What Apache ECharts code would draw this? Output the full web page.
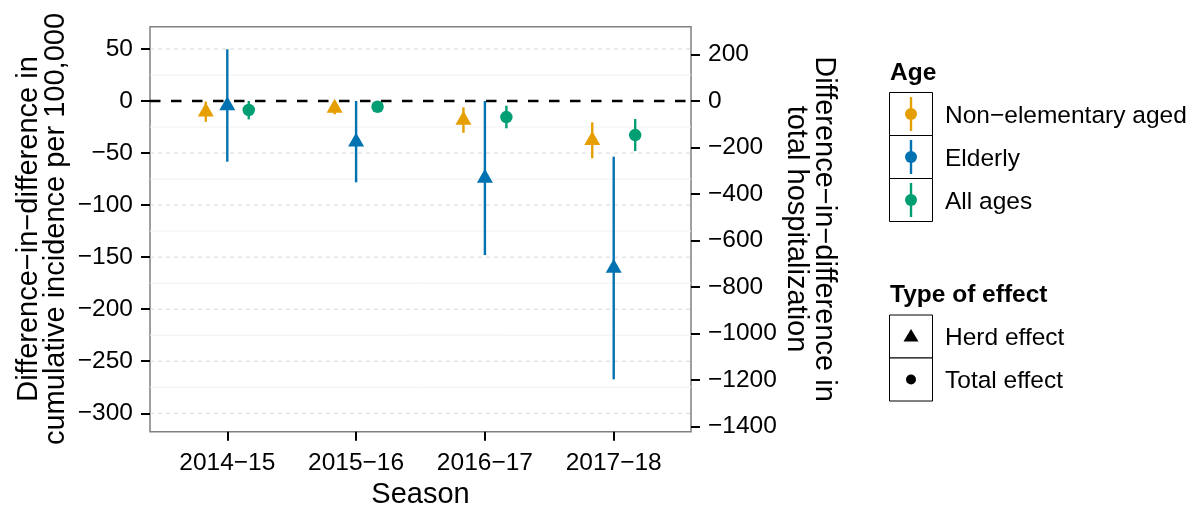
<!DOCTYPE html>
<html>
<head>
<meta charset="utf-8">
<script src="https://cdn.jsdelivr.net/npm/echarts@6/dist/echarts.min.js"></script>
<style>html,body{margin:0;padding:0;background:#fff;}#c{width:1194px;height:510px;}</style>
</head>
<body>
<div id="c"></div>
<script>
// ---------- data ----------
const seasons = ['2014−15', '2015−16', '2016−17', '2017−18'];
const ageGroups = ['Non−elementary aged', 'Elderly', 'All ages'];
const effectTypes = ['Herd effect', 'Total effect'];
const groupEffect = ['Herd effect', 'Herd effect', 'Total effect'];

const nonElemEst = [-10.3, -6.7, -18.3, -37.8];
const nonElemLo  = [-20.0, -12.8, -30.5, -55.0];
const nonElemHi  = [-0.5, -0.6, -6.1, -20.5];

const elderlyEst = [-4.3, -39.1, -74.0, -160.4];
const elderlyLo  = [-58.3, -78.1, -148.0, -267.4];
const elderlyHi  = [49.7, 0.0, 0.0, -53.5];

const allEst = [-8.6, -5.5, -15.4, -32.7];
const allLo  = [-17.6, -10.0, -26.2, -48.0];
const allHi  = [0.0, -1.5, -4.5, -17.3];

const leftTicks  = [50, 0, -50, -100, -150, -200, -250, -300];
const minorTicks = [25, -25, -75, -125, -175, -225, -275];
const rightTicks = [200, 0, -200, -400, -600, -800, -1000, -1200, -1400];
const hlineValue = [0];

const leftMin = -317.7, leftMax = 71.4;
const secRatio = 4.475; // right axis = left * ratio

const leftTitle = 'Difference−in−difference in\ncumulative incidence per 100,000';
const rightTitle = 'Difference−in−difference in\ntotal hospitalization';
const xTitle = 'Season';
const ageTitle = 'Age';
const effectTitle = 'Type of effect';

// ---------- build ----------
const FONT = "'Liberation Sans', Arial, Helvetica, sans-serif";
const colors = ['#E69F00', '#0072B2', '#009E73'];
const xMin = 0.4, xMax = 4.6;
const dodge = 0.5;
const est = [nonElemEst, elderlyEst, allEst];
const lo = [nonElemLo, elderlyLo, allLo];
const hi = [nonElemHi, elderlyHi, allHi];
const fmtNum = v => String(v).replace('-', '−');

function hline(style) {
  return function (params, api) {
    const y = api.value(1);
    const a = api.coord([xMin, y]);
    const b = api.coord([xMax, y]);
    return { type: 'line', shape: { x1: a[0], y1: a[1], x2: b[0], y2: b[1] }, style: style };
  };
}

const series = [];
series.push({
  type: 'custom', name: 'minor', z: 1, silent: true,
  data: minorTicks.map(v => [xMin, v]), encode: { x: 0, y: 1 },
  renderItem: hline({ stroke: '#f2f2f2', lineWidth: 1 })
});
series.push({
  type: 'custom', name: 'major', z: 1, silent: true,
  data: leftTicks.filter(v => v !== 0).map(v => [xMin, v]), encode: { x: 0, y: 1 },
  renderItem: hline({ stroke: '#d6d6d6', lineWidth: 1, lineDash: [4, 4] })
});
series.push({
  type: 'custom', name: 'zero', z: 2, silent: true,
  data: hlineValue.map(v => [xMin, v]), encode: { x: 0, y: 1 },
  renderItem: hline({ stroke: '#000', lineWidth: 2.5, lineDash: [10.5, 10.5] })
});

ageGroups.forEach((g, gi) => {
  const off = (gi - (ageGroups.length - 1) / 2) * dodge / ageGroups.length;
  series.push({
    type: 'custom', name: g + ' CI', z: 3, silent: true,
    data: seasons.map((s, i) => [i + 1 + off, lo[gi][i], hi[gi][i]]),
    encode: { x: 0, y: [1, 2] },
    renderItem: function (params, api) {
      const a = api.coord([api.value(0), api.value(1)]);
      const b = api.coord([api.value(0), api.value(2)]);
      return { type: 'line', shape: { x1: a[0], y1: a[1], x2: b[0], y2: b[1] },
        style: { stroke: colors[gi], lineWidth: 2.4 } };
    }
  });
  const tri = groupEffect[gi] === 'Herd effect';
  series.push({
    type: 'scatter', name: g, z: 4, silent: true,
    data: seasons.map((s, i) => [i + 1 + off, est[gi][i]]),
    symbol: tri ? 'triangle' : 'circle',
    symbolSize: tri ? [16, 14] : 12.5,
    symbolOffset: tri ? [0, -2.3] : [0, 0],
    itemStyle: { color: colors[gi], opacity: 1 }
  });
});

// legend (drawn)
const graphic = [];
const LX = 889.5, KW = 43, KH = 43, TX = 945;
graphic.push({ type: 'text', x: 890, y: 73, style: { text: ageTitle, fontFamily: FONT, fontSize: 24.5, fontWeight: 'bold', fill: '#000', align: 'left', verticalAlign: 'middle' } });
ageGroups.forEach((g, i) => {
  const top = 92.5 + KH * i, cy = top + KH / 2, cx = LX + KW / 2;
  graphic.push({ type: 'rect', shape: { x: LX, y: top, width: KW, height: KH }, style: { fill: '#fff', stroke: '#000', lineWidth: 1 } });
  graphic.push({ type: 'line', shape: { x1: cx, y1: top + 4.5, x2: cx, y2: top + KH - 4.5 }, style: { stroke: colors[i], lineWidth: 2.4 } });
  graphic.push({ type: 'circle', shape: { cx: cx, cy: cy, r: 6 }, style: { fill: colors[i] } });
  graphic.push({ type: 'text', x: TX, y: cy + 2, style: { text: g, fontFamily: FONT, fontSize: 24.5, fill: '#000', align: 'left', verticalAlign: 'middle' } });
});
graphic.push({ type: 'text', x: 890, y: 295, style: { text: effectTitle, fontFamily: FONT, fontSize: 24.5, fontWeight: 'bold', fill: '#000', align: 'left', verticalAlign: 'middle' } });
effectTypes.forEach((e, i) => {
  const top = 315 + KH * i, cy = top + KH / 2, cx = LX + KW / 2;
  graphic.push({ type: 'rect', shape: { x: LX, y: top, width: KW, height: KH }, style: { fill: '#fff', stroke: '#000', lineWidth: 1 } });
  if (e === 'Herd effect') {
    graphic.push({ type: 'polygon', shape: { points: [[cx, cy - 7.5], [cx + 7.5, cy + 5], [cx - 7.5, cy + 5]] }, style: { fill: '#000' } });
  } else {
    graphic.push({ type: 'circle', shape: { cx: cx, cy: cy, r: 5 }, style: { fill: '#000' } });
  }
  graphic.push({ type: 'text', x: TX, y: cy + 2, style: { text: e, fontFamily: FONT, fontSize: 24.5, fill: '#000', align: 'left', verticalAlign: 'middle' } });
});
// axis titles
graphic.push({ type: 'text', x: 42, y: 229, rotation: Math.PI / 2, style: { text: leftTitle, fontFamily: FONT, fontSize: 29, lineHeight: 27, fill: '#000', align: 'center', verticalAlign: 'middle' } });
graphic.push({ type: 'text', x: 810, y: 229, rotation: -Math.PI / 2, style: { text: rightTitle, fontFamily: FONT, fontSize: 29, lineHeight: 28, fill: '#000', align: 'center', verticalAlign: 'middle' } });
graphic.push({ type: 'text', x: 420.5, y: 495, style: { text: xTitle, fontFamily: FONT, fontSize: 29, fill: '#000', align: 'center', verticalAlign: 'middle' } });

const tickStyle = { show: true, length: 9, lineStyle: { color: '#000', width: 2 } };
const labelBase = { fontFamily: FONT, fontSize: 24.5, color: '#000' };

const option = {
  animation: false,
  backgroundColor: '#fff',
  grid: { left: 150, right: 503, top: 26.7, bottom: 78.3, show: true, borderColor: '#808080', borderWidth: 1.5, backgroundColor: '#fff', containLabel: false, outerBoundsMode: 'none' },
  xAxis: {
    type: 'value', min: xMin, max: xMax, position: 'bottom',
    axisLine: { show: false, onZero: false }, splitLine: { show: false },
    axisTick: Object.assign({ customValues: seasons.map((s, i) => i + 1) }, tickStyle),
    axisLabel: Object.assign({ customValues: seasons.map((s, i) => i + 1), formatter: v => seasons[Math.round(v) - 1], margin: 19 }, labelBase)
  },
  yAxis: [
    {
      type: 'value', position: 'left', min: leftMin, max: leftMax,
      axisLine: { show: false, onZero: false }, splitLine: { show: false },
      axisTick: Object.assign({ customValues: leftTicks }, tickStyle),
      axisLabel: Object.assign({ customValues: leftTicks, formatter: fmtNum, margin: 17 }, labelBase)
    },
    {
      type: 'value', position: 'right', min: leftMin * secRatio, max: leftMax * secRatio,
      axisLine: { show: false, onZero: false }, splitLine: { show: false },
      axisTick: Object.assign({ customValues: rightTicks }, tickStyle),
      axisLabel: Object.assign({ customValues: rightTicks, formatter: fmtNum, margin: 17 }, labelBase)
    }
  ],
  series: series,
  graphic: graphic
};

const chart = echarts.init(document.getElementById('c'), null, { renderer: 'canvas' });
chart.setOption(option);
</script>
</body>
</html>
